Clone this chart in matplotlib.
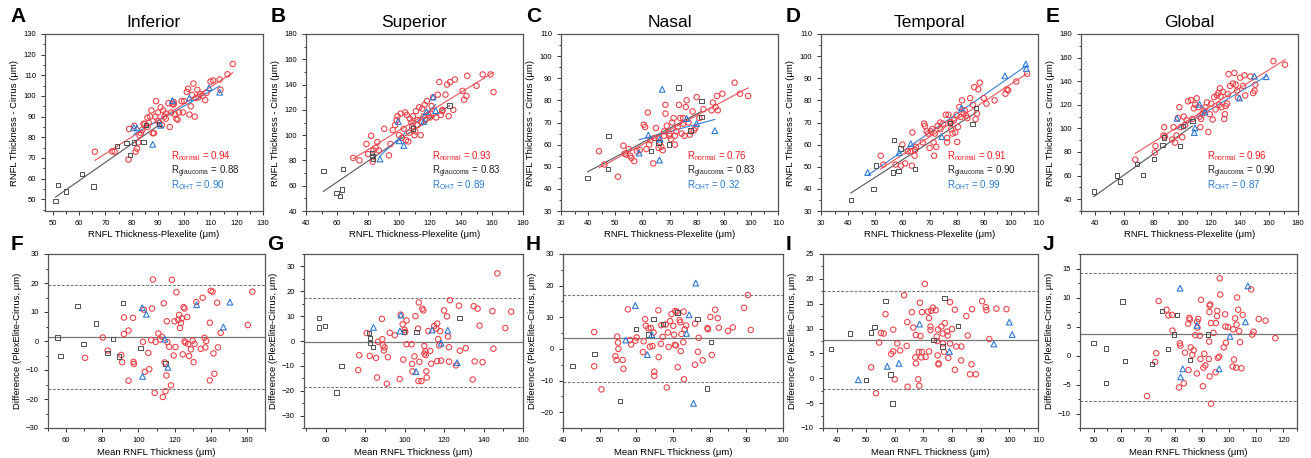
"""RNFL thickness: PlexElite vs Cirrus correlation and Bland-Altman panels."""
import matplotlib

matplotlib.use("Agg")

import matplotlib.pyplot as plt
import numpy as np
from matplotlib.ticker import AutoMinorLocator, MultipleLocator

plt.rcParams["font.family"] = ["Liberation Sans", "DejaVu Sans"]
plt.rcParams["mathtext.fontset"] = "custom"
plt.rcParams["mathtext.rm"] = "Liberation Sans"

RED = "#e8464c"
GRAY = "#505050"
BLUE = "#2f7bd3"
RED_TXT = "#f01e23"
BLUE_TXT = "#2a7ad0"

# ---- top row: Plexelite (x) vs Cirrus (y) ----
A_NORMAL = [(66, 73), (72.5, 73.2), (73.5, 73), (78.8, 69.2), (79, 84), (81, 85.5), (81.5, 73), (82, 74.5),
            (82.5, 77.5), (83, 81), (83.5, 82), (84, 83.5), (85, 86.5), (86, 85), (86.5, 87), (87, 90),
            (87.5, 93), (88, 82), (88.5, 82), (89, 90), (89.3, 97.5), (90, 92), (90.5, 87), (91, 94.5),
            (91.5, 86), (92, 93), (92.5, 90), (93, 89), (94, 96.5), (94.5, 85), (95, 92), (95.5, 96),
            (96, 97), (96.5, 91), (97, 89), (97.5, 88.5), (98, 92), (99, 97.5), (99.5, 92), (100, 97.5),
            (101, 102), (101.5, 103.5), (102, 91), (102.5, 95), (103, 100.5), (103.5, 106), (104, 90),
            (104.5, 99), (105, 103), (105.5, 99.5), (106, 101), (107, 100), (108, 98), (108.5, 101.5),
            (110, 107), (111, 107.5), (113.5, 108), (113.8, 103), (116.5, 110.5), (118.5, 115.5),
            (96, 96), (93, 91.5), (90, 88), (86, 89.5), (84.5, 86.5)]
A_GLAUCOMA = [(51, 49), (52, 56.8), (55, 53.8), (61.2, 62.3), (65.5, 56.2), (74.3, 75.8), (78, 77.2),
              (79.3, 71.5), (81, 77.5), (84.5, 77.6), (85.5, 86), (90.5, 86.5)]
A_OHT = [(80.8, 84.7), (82, 84.5), (88, 76.6), (91, 85.8), (95.5, 97.8), (102, 99), (109.5, 104), (113.5, 101.8)]

B_NORMAL = [(70.5, 82), (74.5, 80), (79, 93), (80, 85), (82, 99.5), (83, 79), (83.5, 88), (85, 90),
            (86, 94.5), (87, 88), (90.5, 105), (93.5, 84), (94.5, 93), (96, 104), (97.5, 108), (98.5, 112),
            (99, 115), (100, 100), (101, 117), (102, 98), (103, 105), (104, 118), (105, 116), (106, 95),
            (106.5, 102), (107, 113), (108, 110), (108.5, 107), (109, 115), (110, 100), (110.5, 103),
            (111, 119), (112, 112), (113, 122), (114, 100), (114.5, 110), (115, 121), (116, 115),
            (116.5, 124), (117, 112), (118, 127), (119, 116), (120, 114), (120.5, 117), (121, 123),
            (122, 130), (124, 114), (125, 132), (126, 142), (127, 116), (128, 119), (130, 132), (131, 140),
            (132, 115), (133, 142), (135, 120), (136, 144), (141, 135), (142, 128), (143.5, 131),
            (144, 147), (150, 139), (154, 148), (159, 148), (161, 134), (128, 120), (104.5, 96), (112, 108)]
B_GLAUCOMA = [(51.2, 71.8), (59.8, 54.4), (61.9, 52), (63.4, 57.1), (64, 73.4), (82.7, 86), (83, 83.3),
              (83.4, 81.2), (109, 105.2), (132.7, 123.4)]
B_OHT = [(87.7, 81.1), (99.5, 110.8), (100.2, 95.5), (103.1, 91.8), (116, 110.8), (117.7, 118.6),
         (122, 130.1), (123.7, 119.4)]

C_NORMAL = [(44, 57), (46, 51), (51, 45.5), (53, 59.5), (53.5, 56), (54, 55.5), (55, 58), (55.5, 55),
            (56, 54), (57, 52.5), (58, 57), (59, 57.5), (60.5, 69), (61, 68), (61.5, 58), (62, 74.5),
            (62.5, 60), (63, 62), (64, 51.5), (64.5, 63), (65, 67.5), (66, 58.5), (66.5, 61), (67, 59),
            (67.5, 57.5), (68, 66), (68.5, 74), (68.5, 78), (69, 68.5), (70, 64), (70.5, 62.5), (71, 70),
            (71.5, 72), (72, 60), (72.5, 66), (73, 68), (73.5, 78), (74, 72), (74.5, 65), (75, 69.5),
            (75.5, 64), (76, 77), (76.3, 80), (77, 70), (77.5, 64.5), (78, 66), (78.5, 75), (79, 66.5),
            (79.5, 67.5), (80, 81.5), (81, 72), (82.5, 76), (85.5, 75.5), (86, 79), (87, 77), (87.5, 82),
            (87.8, 75.5), (89.5, 83), (94, 88), (96, 83), (99, 82), (75, 72), (70, 65), (72, 64),
            (68, 64), (66, 63)]
C_GLAUCOMA = [(39.8, 45), (47.3, 49), (47.5, 63.8), (63.2, 57), (66, 61), (69.8, 60), (73.3, 85.8),
              (77.8, 66.3), (81.8, 79.6), (81.8, 72.4)]
C_OHT = [(58.8, 56.2), (62.2, 64.3), (66.3, 53), (66.5, 62.5), (67.3, 85), (76.3, 71.8), (80, 69.5), (86.7, 66.3)]

D_NORMAL = [(52, 55), (53, 51), (57.5, 51), (59.5, 50.5), (60, 60), (61, 51.5), (62, 57), (63, 57),
            (63.5, 50.5), (63.7, 65.5), (64.5, 55), (64.7, 57.5), (65, 59), (67.5, 61), (68, 69.5),
            (68.3, 68.5), (69, 66), (69.5, 65), (70, 58.5), (70.5, 66), (71, 67), (71.5, 61), (71.7, 55),
            (72, 65), (72.5, 59), (73, 68.5), (74, 70), (75, 69.5), (76, 73.5), (76.5, 63), (76.5, 61),
            (77, 73.5), (77.5, 70), (78, 67), (78.5, 65), (79, 71), (79.5, 65.5), (80, 73.5), (80.2, 61.2),
            (80.5, 68), (81, 77), (81.5, 72.5), (82, 80), (82.5, 74), (83, 75.5), (83.5, 73), (84, 72),
            (85, 81), (86, 78), (86.5, 86), (87, 71.5), (87.5, 74), (88, 85), (88.5, 88), (90, 81),
            (91, 78.5), (94, 80), (98, 83), (98.5, 85), (99, 84.5), (102, 88.5), (106, 92), (78, 70), (74, 67)]
D_GLAUCOMA = [(41, 35), (49.3, 40), (50.3, 50.5), (56.5, 47.4), (57, 62), (58.5, 48), (59.3, 58.2),
              (64.6, 49), (77.5, 69.8), (85.8, 69.2), (87.2, 76.6)]
D_OHT = [(47.2, 47.4), (58.8, 56.3), (63.1, 60.4), (74.5, 63.6), (81.8, 76.6), (97.8, 91.1), (105.5, 96.4), (105.7, 94.4)]

E_NORMAL = [(67.5, 73.5), (81, 79.5), (81.5, 85), (87, 94), (87.5, 101), (88, 93), (93, 90.5), (94, 101),
            (95, 88), (96, 94), (97, 109), (98, 118), (99, 101), (100, 92.5), (101, 110), (102, 103),
            (103, 107), (104, 123), (106, 124), (107, 108), (108, 117), (109, 120), (110, 125.5), (111, 118),
            (112, 110), (112.5, 101), (113, 108), (114, 112.5), (115, 115), (116, 118), (117, 122), (118, 97),
            (119, 112), (120, 121), (121, 107.5), (122, 126.5), (123, 116), (124, 128), (125, 130),
            (125.5, 120), (126, 134), (126.5, 127), (127, 118), (128, 131), (129, 108), (129.5, 112),
            (130, 119), (131, 121), (131.5, 129), (132, 146), (133, 136), (135, 138), (136, 147), (137, 137),
            (138, 132), (138.5, 126), (140, 143), (142, 136), (143, 145), (143.5, 128), (147, 144),
            (149, 130), (150, 132), (150.5, 137), (163, 157), (171, 154)]
E_GLAUCOMA = [(38.8, 46.4), (55, 60.1), (56.9, 55), (68.9, 69.8), (72.8, 60.7), (80.5, 73.9), (86.3, 85.9),
              (87.4, 92.2), (98.4, 85), (100.5, 102.2), (107, 106.5)]
E_OHT = [(96.3, 108.5), (108.3, 96.5), (108.8, 100.5), (112, 120.5), (115.7, 113.9), (139.5, 125.7),
         (149.9, 144.2), (158, 143.8)]

# ---- bottom row: Bland-Altman (mean, difference) ----
F_NORMAL = [(70.5, -5.8), (80.3, 1.2), (83, -3.3), (90.5, -4.8), (91, -7.3), (92, 8.1), (92, 2.4), (94.5, 3.6),
            (94.5, -13.7), (97, 8), (97.3, -7.2), (97.5, -7.9), (102.5, -0.3), (103, 10.8), (103.5, -10.6),
            (105.5, -4.1), (106, -9.7), (107, 0.3), (107.5, 11.2), (108, 21.2), (109, -17.9), (109.5, -0.3),
            (111, 2.6), (112, 0.5), (113, 1.5), (113.5, -19.3), (114, 13), (114.5, -7.4), (115, -17.3),
            (115.5, -11.9), (115.7, 6.8), (116, -0.4), (117, -2), (118, -15.3), (118.5, 21.1), (119.5, -5),
            (120, 6.8), (120.5, -2.1), (121, 16.8), (122, 7.3), (122.5, 9), (123, 4.5), (123.5, 6.2),
            (124, 7.8), (124.5, -4.6), (125, 11.7), (125.5, 11.2), (125.5, -0.1), (126, -0.6), (127, 8.3),
            (127.5, -1), (128, -5.2), (129, -2.9), (130, 0.1), (130.5, -7.3), (131, -1), (132, 13.4),
            (134.5, -2.7), (135.5, 14.9), (136.5, 1.1), (137, -2.2), (137.5, 0), (139.5, 6.3), (139.5, -13.6),
            (140, 17.3), (141, 17), (141.5, -4.3), (142, -11.3), (143.5, 13.2), (144, -2.2), (145.5, 2.8),
            (160.5, 5.5), (163, 17)]
F_GLAUCOMA = [(55.2, 1.2), (57, -5.1), (66.3, 12.1), (69.6, -1.1), (76.7, 6), (83, -4.2), (86, 0.7),
              (89.3, -5.4), (91.5, 13.1), (101.1, -2.4), (115, -7.8)]
F_OHT = [(102.1, 11.5), (104.4, 9.2), (102.3, -12.2), (114.6, 0.6), (116.3, -9.1), (132.2, 12.5), (147, 4.8), (150.6, 13.4)]

G_NORMAL = [(76.5, -11.7), (77, -5.7), (80.8, 3.2), (82.3, -6), (85.5, -6.8), (86, -14.7), (86.5, -0.3),
            (88.5, 8.9), (88.7, 0.7), (89, -1.7), (89.5, -3.8), (89.8, -2.6), (91, -17.2), (91.5, -6.5),
            (92.5, 3.3), (95, 2.3), (97.5, -15.3), (98, 10.6), (99, 6.7), (99.3, -7.5), (100, 4.5), (100.3, 3.6),
            (101, 8.3), (101, -1.3), (103.5, -1.3), (103.8, -9.2), (104, -12.2), (105, -6.2), (105.5, 10),
            (106.8, 5), (107, -16.1), (107.2, 15.5), (107.5, -8.4), (108.5, -16.1), (109, 13), (109.5, 12.3),
            (110, -5.1), (110, -2), (110.5, -4.2), (110.7, -5.7), (111, -12.2), (111.2, -14.7), (112, 4),
            (113, -4), (113.5, -9.1), (115, 6), (116, 5), (116.5, 7), (116.5, -8.1), (117, 0.8), (117.5, -1.8),
            (118.5, -7.9), (118, 4), (120, 12.3), (121.5, 9.9), (122, 1.8), (122.5, -2.5), (122.5, -8.3),
            (123, 16.4), (126, -9.8), (127.5, 14.2), (128, -3.9), (131, -2.9), (134.5, -15.5), (135, 14),
            (135.5, -8.2), (137, 13), (138, 6.2), (139.5, -8.5), (144.5, 12), (145, -3.1), (147, 27.2),
            (151, 5.2), (154, 11.8)]
G_GLAUCOMA = [(56.6, 9.3), (56.6, 5.5), (59.7, 6.1), (65.4, -20.7), (68.1, -10), (82, 3.1), (82.5, 1.3),
              (82.5, -0.9), (84, -2.5), (99.8, 3.5), (106.1, 3.7), (127.8, 9.3)]
G_OHT = [(84.2, 5.5), (98.1, 10.4), (97.6, 4), (105.8, -12.3), (113.9, 4.4), (118.5, -0.9), (121.9, 4.3), (126.6, -8.7)]

H_NORMAL = [(48.5, 5.3), (48.5, -5.5), (50.5, -12.8), (54.3, -2.3), (54.6, -3.5), (54.8, 3.9), (55, 2), (55.1, 0),
            (56.3, -3.5), (56.5, -6.3), (57.7, 12.5), (58.3, 2.8), (58.6, 1.4), (59.7, 2.6), (60.1, 3.6),
            (61.8, -1), (62, 2.4), (62.4, 9.4), (62.6, 7.3), (63.3, 6.5), (63.7, 0.7), (64, 6.6), (64.4, 0.9),
            (64.7, 5.2), (64.9, -7.2), (64.9, -8.5), (66, 12.2), (66.1, -2.6), (66.7, 1.6), (66.8, 7.5),
            (67.2, 3.8), (68, 7.7), (68.3, -12.2), (68.6, 5.2), (68.8, 0.6), (69.2, 8.8), (69.6, 11),
            (70.1, 7.3), (70.3, 4.5), (70.5, 1.3), (70.6, 12), (70.8, 1.1), (71, 11.8), (71.3, -5.8),
            (71.8, 9.1), (72, 8.4), (72.1, -0.7), (72.3, 4.7), (72.8, 2.1), (72.9, 11.8), (73, -9.6),
            (73.2, 6.2), (73.6, 7.4), (76, 8), (76, -5), (76.8, -0.9), (77, 3.5), (78.1, -3.6), (79.4, 6.6),
            (79.5, 6.2), (80.2, 10.1), (80.6, -1.9), (81.5, 12.4), (82.2, 9.7), (82.5, 6.7), (85, 5.7),
            (86.3, 6.8), (89.4, 13), (90.4, 17), (91.2, 6)]
H_GLAUCOMA = [(42.6, -5.4), (48.6, -1.6), (55.6, -16.5), (59.9, 6.3), (63.3, 4.5), (64.7, 9.4), (67.2, 7.9),
              (71.2, 11.5), (76.7, 9.4), (80.3, 2.2), (79.3, -12.5)]
H_OHT = [(57.1, 2.8), (59.7, 13.7), (63, -1.8), (64.2, 4.5), (74.4, 10.8), (73.7, 4.9), (76.2, 20.8), (75.6, -17.2)]

I_NORMAL = [(51.8, 2.2), (53.5, -3), (54.6, 7.2), (55.2, 9.1), (56.2, 9), (56.8, 12.9), (58.8, 4.9), (59.5, 5.4),
            (59.5, 9.8), (60, -0.2), (60.9, 7), (61.9, 5.6), (63.3, 16.7), (64.2, 6.5), (64.4, 11.3),
            (64.5, -1.7), (66, 13.3), (66.5, 10.2), (67.2, 4.2), (67.4, 3), (67.4, 8.7), (68.2, -0.2),
            (68.4, 5.3), (68.6, -1.5), (68.8, 15.2), (69, 8.5), (69.3, 4.2), (69.5, 5.3), (69.5, 13.3),
            (70.5, 19), (70.8, 4.3), (71.6, 13.4), (72, 5.4), (72, 12.1), (72.5, 9.7), (72.5, 10.4),
            (72.8, 13.6), (73.3, 14.2), (74.3, 13.7), (74.7, 8.4), (74.8, 7.5), (75, 4.6), (75.1, 9.8),
            (75.3, 3), (75.3, 2.8), (76.3, 10.4), (76.8, 7), (76.8, 9), (77.2, 5.3), (77.5, 11.1), (78.3, 9.4),
            (78.5, 8.6), (78.7, 4.1), (79.3, 7), (79.3, 15.3), (80, 9.9), (81, 13.8), (81, 1.7), (81.5, 6.4),
            (83.2, 3.6), (83.3, 6.4), (85, 12.5), (85.5, 8.6), (86.3, 0.8), (86.8, 2.8), (87, 13.9),
            (88.3, 0.8), (90.5, 15.5), (91.8, 14.3), (92, 13.7), (93, 7.9), (95.5, 14), (99, 13.9)]
I_GLAUCOMA = [(37.7, 5.9), (44.4, 9), (50.1, -0.3), (51.8, 9.2), (53, 10.3), (56.8, 15.6), (58.5, 0.8),
              (59.3, -5.1), (73.6, 7.7), (76.7, 6.4), (77.4, 16.2), (82, 10.5)]
I_OHT = [(47.3, -0.3), (57.4, 2.4), (61.5, 3), (68.7, 10.9), (79.1, 5.4), (94.6, 6.9), (100, 11.3), (101, 8.8)]

J_NORMAL = [(69.7, -7), (72.7, -1.1), (73.1, 0.4), (74, 9.4), (76.9, 7.9), (77.6, 6.9), (78.9, 7), (79.1, 4.3),
            (81.5, -5.5), (81.8, 2.1), (82, 1.7), (83.3, -4.8), (83.7, 0.5), (84.9, 5.5), (85, -2.5),
            (85.3, 6.5), (85.5, 6.2), (85.8, 1.4), (86.4, 0.1), (86.9, 0.9), (87.5, 3.5), (88.1, -3.1),
            (88.2, 5.8), (88.3, 4.8), (88.6, 6.3), (89.2, 3.4), (89.4, -0.6), (89.6, 9.6), (90.3, -5.3),
            (90.5, -2.1), (90.8, 0.3), (91.2, -1.7), (92.5, -0.6), (92.6, 2.4), (92.7, 7.5), (92.8, 8.6),
            (92.8, -3.6), (93, 8.8), (93.3, 5.6), (93.3, -8.3), (94.2, 3.9), (95, -2.9), (95.1, 5.6),
            (95.5, 6.8), (95.6, 7.7), (95.8, -0.4), (96.3, -0.2), (96.5, 13.3), (96.7, 10.5), (98, 1.4),
            (98.5, 7.1), (98.6, 5), (98.8, 2.2), (99.6, 4.9), (101.3, -1.9), (101.5, 4.5), (101.8, -0.7),
            (102.2, 6.4), (102.6, -2.1), (102.7, 5.3), (102.9, 10), (103.3, 7.9), (103.7, 4.2), (104, 2.3),
            (104.5, -2.2), (105, 7), (108.1, 11.4), (108.5, 3.6), (109, 4.1), (110.9, 6.3), (113.4, 6), (117, 3)]
J_GLAUCOMA = [(50, 2.2), (54.5, 1.2), (54.5, -4.7), (60.7, 9.3), (61.7, -1), (71.6, -1.5), (75.2, 7.7),
              (77.4, 1.1), (79.6, 3.6), (80.8, 7), (85.6, -0.8), (92.3, 3.6)]
J_OHT = [(81.9, 11.6), (82.1, -3.7), (82.9, -2.3), (88.1, 5.2), (96.3, -2.3), (100.3, 3.3), (106, 5.8), (106.9, 12)]

TOP_TITLES = ["Inferior", "Superior", "Nasal", "Temporal", "Global"]
TOP_LETTERS = ["A", "B", "C", "D", "E"]
BOTTOM_LETTERS = ["F", "G", "H", "I", "J"]
R_VALUES = [(0.94, 0.88, 0.90), (0.93, 0.83, 0.89), (0.76, 0.83, 0.32), (0.91, 0.90, 0.99), (0.96, 0.90, 0.87)]
# Bland-Altman: mean bias, upper LoA, lower LoA
BA_LINES = [(1.3, 19.2, -16.5), (-0.6, 17.5, -18.5), (3.3, 17.1, -10.5), (7.8, 17.6, -2.1), (3.7, 14.2, -7.9)]

TOP_DATA = [(A_NORMAL, A_GLAUCOMA, A_OHT), (B_NORMAL, B_GLAUCOMA, B_OHT), (C_NORMAL, C_GLAUCOMA, C_OHT),
            (D_NORMAL, D_GLAUCOMA, D_OHT), (E_NORMAL, E_GLAUCOMA, E_OHT)]
BOTTOM_DATA = [(F_NORMAL, F_GLAUCOMA, F_OHT), (G_NORMAL, G_GLAUCOMA, G_OHT), (H_NORMAL, H_GLAUCOMA, H_OHT),
               (I_NORMAL, I_GLAUCOMA, I_OHT), (J_NORMAL, J_GLAUCOMA, J_OHT)]

# axes geometry in pixels (left, right), limits and tick steps
W, H = 1311, 458
TOP_X_PX = [(45, 263), (306, 523), (561, 778), (821, 1038), (1081, 1298)]
BOT_X_PX = [(48, 265), (304, 523), (563, 783), (823, 1038), (1080, 1297)]
TOP_LIMS = [((47, 130), (44.3, 130), 10, 10), ((40, 180), (40, 180), 20, 20), ((30, 110), (30, 110), 10, 10),
            ((30, 110), (30, 110), 10, 10), ((30, 180), (30, 180), 20, 20)]
BOT_LIMS = [((50, 170), (-30, 30), 20, 10), ((49, 160), (-35, 35), 20, 10), ((40, 100), (-25, 30), 10, 10),
            ((35, 110), (-10, 25), 10, 5), ((45, 125), (-12.5, 17.5), 10, 5)]

STYLES = [dict(marker="o", s=15, facecolors="none", edgecolors=RED, linewidths=0.8),
          dict(marker="s", s=10, facecolors="none", edgecolors=GRAY, linewidths=0.7),
          dict(marker="^", s=17, facecolors="none", edgecolors=BLUE, linewidths=0.8)]
FIT_COLORS = ["#e8555a", "#555555", "#3a7fd0"]


def style_axes(ax, xlim, ylim, xstep, ystep):
    ax.set_xlim(*xlim)
    ax.set_ylim(*ylim)
    ax.xaxis.set_major_locator(MultipleLocator(xstep))
    ax.yaxis.set_major_locator(MultipleLocator(ystep))
    ax.xaxis.set_minor_locator(AutoMinorLocator(2))
    ax.yaxis.set_minor_locator(AutoMinorLocator(2))
    ax.tick_params(which="both", direction="out", labelsize=5.5, color="#333333", width=0.7)
    ax.tick_params(which="major", length=3)
    ax.tick_params(which="minor", length=1.8)
    for spine in ax.spines.values():
        spine.set_color("#555555")
        spine.set_linewidth(0.9)


def scatter_groups(ax, groups):
    for pts, st in zip(groups, STYLES):
        arr = np.array(pts)
        ax.scatter(arr[:, 0], arr[:, 1], zorder=3, **st)


fig = plt.figure(figsize=(W / 100, H / 100), dpi=100)

for i in range(5):
    l, r = TOP_X_PX[i]
    ax = fig.add_axes([l / W, 1 - 211 / H, (r - l) / W, 177 / H])
    xlim, ylim, xs, ys = TOP_LIMS[i]
    style_axes(ax, xlim, ylim, xs, ys)
    groups = TOP_DATA[i]
    scatter_groups(ax, groups)
    for pts, c in zip(groups, FIT_COLORS):
        arr = np.array(pts)
        k, b = np.polyfit(arr[:, 0], arr[:, 1], 1)
        xx = np.array([arr[:, 0].min(), arr[:, 0].max()])
        ax.plot(xx, k * xx + b, color=c, linewidth=0.8, zorder=2)
    rn, rg, ro = R_VALUES[i]
    lines = [(r"R$_{\mathrm{normal}}$" + f" = {rn:.2f}", RED_TXT),
             (r"R$_{\mathrm{glaucoma}}$" + f" = {rg:.2f}", "#222222"),
             (r"R$_{\mathrm{OHT}}$" + f" = {ro:.2f}", BLUE_TXT)]
    for j, (txt, col) in enumerate(lines):
        ax.text(0.58, 0.29 - 0.08 * j, txt, color=col, fontsize=7.0, transform=ax.transAxes)
    ax.set_title(TOP_TITLES[i], fontsize=12.5, pad=5)
    ax.set_xlabel("RNFL Thickness-Plexelite (μm)", fontsize=6.8, labelpad=2)
    ax.set_ylabel("RNFL Thickness - Cirrus (μm)", fontsize=6.8, labelpad=3)
    fig.text((l - 35) / W, 1 - 17 / H, TOP_LETTERS[i], fontsize=15, fontweight="bold", va="center")

for i in range(5):
    l, r = BOT_X_PX[i]
    ax = fig.add_axes([l / W, 1 - 428 / H, (r - l) / W, 174 / H])
    xlim, ylim, xs, ys = BOT_LIMS[i]
    style_axes(ax, xlim, ylim, xs, ys)
    mean, upper, lower = BA_LINES[i]
    ax.axhline(mean, color="#777777", linewidth=0.9, zorder=1)
    ax.axhline(upper, color="#777777", linewidth=0.8, linestyle=(0, (2.5, 1.5)), zorder=1)
    ax.axhline(lower, color="#777777", linewidth=0.8, linestyle=(0, (2.5, 1.5)), zorder=1)
    scatter_groups(ax, BOTTOM_DATA[i])
    ax.set_xlabel("Mean RNFL Thickness (μm)", fontsize=6.8, labelpad=3)
    ax.set_ylabel("Difference (PlexElite-Cirrus, μm)", fontsize=6.8, labelpad=3)
    fig.text((l - 37) / W, 1 - 245 / H, BOTTOM_LETTERS[i], fontsize=15, fontweight="bold", va="center")

fig.savefig("out.png", dpi=100)
